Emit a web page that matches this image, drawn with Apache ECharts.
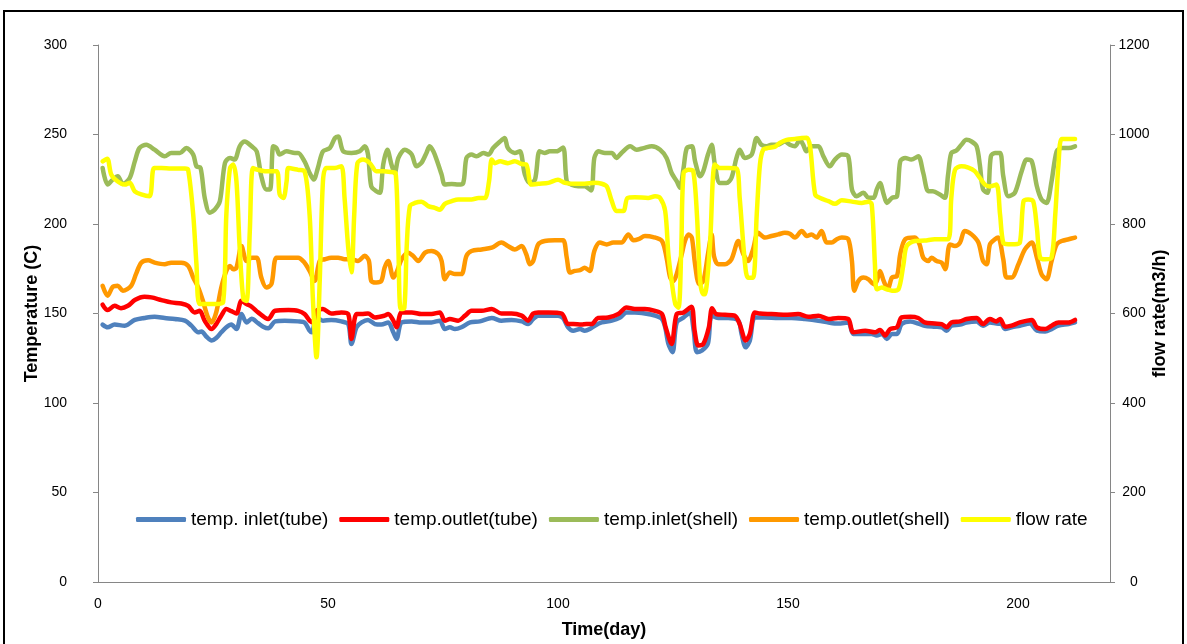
<!DOCTYPE html>
<html>
<head>
<meta charset="utf-8">
<script src="https://cdn.jsdelivr.net/npm/echarts@6/dist/echarts.min.js"></script>
<style>
html,body{margin:0;padding:0;background:#fff;}
#chart{width:1187px;height:644px;}
</style>
</head>
<body>
<div id="chart"></div>
<script>
// Series names
const seriesNames = ['temp. inlet(tube)', 'temp.outlet(tube)', 'temp.inlet(shell)', 'temp.outlet(shell)', 'flow rate'];
const seriesColors = ['#4F81BD', '#FF0000', '#9BBB59', '#FF9900', '#FFFF00'];

// [day, temperature C]
const inletTube = [[1.0,143.8],[2.1,142.3],[3.6,143.8],[5.8,143.2],[6.5,143.8],[8.0,146.4],[10.1,147.5],[12.3,148.2],[14.5,147.5],[16.7,146.9],[18.9,146.0],[20.3,143.2],[21.8,139.5],[22.5,140.0],[23.6,137.0],[24.7,134.9],[25.7,136.3],[26.8,139.5],[27.9,142.3],[29.0,143.8],[30.1,141.3],[31.2,149.7],[32.3,145.0],[33.4,147.0],[34.8,144.6],[35.9,142.6],[37.0,141.7],[38.5,145.6],[40.6,146.0],[43.5,145.6],
[44.9,145.0],[46.0,140.4],[46.5,139.5],[47.5,147.8],[48.9,146.0],[50.7,146.4],[52.9,145.6],[54.4,144.1],[55.1,133.0],[56.2,142.3],[57.3,145.0],[58.7,146.4],[60.2,144.1],[61.6,143.8],[63.1,145.0],[64.2,139.5],[64.9,135.8],[66.0,145.0],[68.2,145.6],[70.3,145.0],[72.5,145.0],[74.3,146.0],[75.4,141.3],[76.5,142.3],[77.6,141.3],[79.0,142.3],[80.9,145.0],[83.0,145.6],[85.6,147.5],
[87.7,146.0],[89.9,146.4],[92.1,145.6],[93.5,144.1],[94.6,146.9],[95.7,148.8],[97.9,148.8],[100.0,148.8],[101.1,147.5],[102.2,142.3],[103.3,140.4],[104.8,141.3],[105.8,140.4],[106.9,141.3],[108.0,143.2],[109.5,145.0],[111.7,146.0],[113.5,147.8],[114.9,150.6],[116.7,150.6],[118.9,150.0],[121.1,148.8],[122.6,146.9],[123.3,142.3],[124.0,133.0],[124.9,128.4],[125.8,145.0],[127.3,147.8],[128.7,150.6],[129.5,140.4],[130.2,128.4],[131.3,129.3],
[132.6,133.3],[133.4,148.8],[134.8,147.5],[137.0,147.5],[139.2,146.0],[139.9,138.6],[140.8,131.1],[141.7,134.9],[142.8,147.8],[145.0,147.8],[147.9,147.5],[150.8,147.5],[153.7,146.9],[156.6,146.0],[158.8,145.0],[160.9,144.4],[163.1,145.0],[164.2,138.6],[166.0,138.6],[168.2,138.6],[169.3,137.7],[170.4,138.6],[171.5,135.8],[172.6,138.6],[173.7,138.6],[174.7,144.1],[176.6,145.6],
[178.3,144.4],[179.7,143.2],[181.9,142.6],[183.4,142.3],[184.5,140.4],[185.5,143.2],[187.4,143.8],[188.8,145.0],[191.0,145.6],[192.4,143.2],[193.9,145.0],[195.3,144.4],[196.4,144.1],[197.2,141.3],[198.6,142.3],[200.4,143.2],[202.6,144.4],[204.1,140.4],[205.9,140.0],[207.3,141.3],[208.8,143.2],[211.0,144.1],[212.4,145.0]];

const outletTube = [[1.0,154.9],[2.1,151.9],[3.6,154.3],[5.0,153.0],[6.5,154.3],[8.0,157.5],[10.1,159.3],[11.6,159.0],[13.8,157.5],[15.9,156.2],[18.1,155.6],[19.6,154.3],[21.0,150.6],[22.1,151.5],[23.2,146.0],[24.7,141.3],[25.7,144.1],[26.8,148.8],[27.9,152.5],[29.0,151.3],[30.1,150.0],[31.2,157.1],[32.3,155.3],[33.4,153.8],[34.8,150.6],[37.0,146.9],[38.5,151.5],[41.4,151.9],[43.5,151.5],
[44.9,149.7],[46.0,146.0],[46.7,145.0],[47.5,151.5],[48.9,152.5],[50.7,150.0],[52.9,150.6],[54.4,149.7],[55.1,135.8],[56.2,149.7],[57.3,149.7],[58.7,150.0],[60.2,147.8],[62.3,148.8],[63.1,149.7],[64.2,146.0],[64.9,142.3],[66.0,150.6],[68.2,150.6],[70.3,149.7],[72.5,149.7],[74.3,150.6],[75.4,146.0],[76.5,146.9],[78.3,146.0],[79.8,148.8],[81.2,151.5],[83.4,151.5],[85.6,152.5],
[87.7,150.0],[89.9,150.0],[92.1,148.8],[93.5,146.0],[94.6,150.0],[95.7,150.6],[97.9,150.6],[100.8,150.0],[102.2,144.1],[103.3,144.1],[105.1,143.8],[106.2,144.1],[107.3,144.1],[108.7,147.5],[110.9,147.8],[113.1,149.7],[114.9,153.4],[116.7,152.5],[118.9,152.5],[121.1,151.5],[122.6,149.7],[123.4,142.3],[124.7,133.0],[125.8,149.7],[127.3,150.6],[129.0,153.8],[129.7,140.4],[130.5,132.1],[131.6,133.0],
[132.8,142.3],[133.5,153.0],[134.4,149.7],[136.3,149.3],[138.4,148.8],[139.5,144.1],[140.8,134.9],[141.7,138.6],[142.8,150.6],[143.9,150.0],[146.4,149.7],[149.3,149.3],[152.2,149.7],[154.4,148.2],[156.6,148.8],[158.8,146.9],[160.9,147.5],[163.1,146.9],[164.2,139.5],[166.8,140.4],[168.9,139.5],[170.0,140.8],[171.1,137.7],[172.2,141.3],[173.7,142.3],[174.7,147.8],[176.6,148.2],
[178.3,147.5],[179.7,145.0],[181.9,144.4],[183.4,144.1],[184.5,142.3],[185.5,145.0],[187.4,145.6],[188.8,146.9],[191.0,147.5],[192.4,144.1],[193.9,146.9],[195.3,145.6],[196.1,146.9],[197.2,142.6],[198.6,143.2],[200.4,145.0],[203.0,146.4],[204.1,142.3],[205.9,141.3],[207.3,143.2],[208.8,145.0],[211.0,145.0],[212.4,146.4]];

const inletShell = [[1.0,231.3],[2.1,222.0],[3.2,224.8],[4.3,226.7],[5.4,222.4],[6.9,225.7],[8.0,235.0],[9.0,242.4],[10.5,244.3],[12.3,241.5],[14.5,237.8],[15.9,239.7],[17.8,239.7],[19.2,242.4],[20.7,238.8],[21.4,232.2],[22.3,231.3],[23.2,214.6],[24.3,206.3],[25.4,208.1],[26.5,212.8],[27.6,234.1],[28.7,236.9],[29.7,236.0],[30.8,243.4],[31.9,246.1],[33.4,243.4],[34.5,240.6],[35.5,226.7],[36.6,219.3],[37.4,219.3],[38.1,243.4],[38.8,242.4],[39.5,238.8],[41.0,240.6],[42.8,239.7],
[43.5,239.7],[44.9,235.0],[46.0,228.5],[46.9,224.8],[47.8,231.3],[48.9,240.6],[50.4,242.4],[51.5,248.0],[52.2,248.9],[53.3,240.6],[55.1,239.7],[56.9,240.6],[58.0,243.4],[58.7,238.8],[59.4,221.1],[60.5,218.3],[61.3,217.4],[62.0,233.2],[62.9,241.5],[63.8,233.2],[64.5,228.5],[65.3,236.9],[66.7,241.5],[68.2,238.8],[69.2,232.2],[70.3,234.1],[71.4,239.7],[72.1,243.4],[72.9,240.6],[73.6,236.0],[74.7,227.6],[75.4,222.0],[76.9,222.4],[78.3,222.0],[79.4,222.9],[80.1,236.9],[81.2,238.8],[82.3,237.8],[83.8,239.7],[84.9,238.8],[85.9,242.4],[87.4,246.1],
[88.4,248.0],[89.1,242.4],[90.6,239.7],[91.7,240.6],[92.8,227.6],[93.9,222.9],[95.0,224.8],[96.0,240.6],[97.1,239.7],[98.2,240.6],[99.7,240.6],[101.1,242.8],[101.9,223.9],[102.9,222.0],[104.4,221.1],[105.8,221.1],[107.2,218.7],[107.9,236.9],[108.8,240.6],[110.2,239.7],[111.7,239.7],[112.7,236.9],[113.8,239.7],[115.7,243.4],[117.1,241.5],[118.6,242.4],[120.4,243.4],[122.2,241.5],[123.6,236.9],[124.7,228.5],[125.8,223.9],[126.5,220.2],[127.3,231.3],[128.0,242.4],[129.1,243.4],[129.8,235.0],[130.9,226.7],[131.6,229.6],
[132.6,238.8],[133.4,244.3],[134.1,233.2],[135.2,222.9],[136.6,222.9],[137.7,225.7],[138.8,236.9],[139.5,241.5],[140.6,236.9],[142.1,238.8],[143.2,248.0],[144.2,244.3],[145.3,243.4],[146.4,244.3],[147.9,244.3],[149.3,246.1],[150.4,244.3],[151.5,243.4],[152.6,247.0],[153.3,244.3],[154.0,240.6],[155.1,243.4],[156.6,243.4],[157.7,237.8],[159.1,232.2],[160.2,236.0],[161.7,238.8],[163.1,237.8],[163.9,219.3],[164.9,215.5],[166.4,217.4],[167.5,214.6],[168.6,214.6],[169.3,219.3],[170.0,222.9],[170.8,216.5],[171.5,211.8],[172.6,214.6],[173.7,215.5],[174.4,235.0],[175.5,236.9],
[176.8,236.0],[178.3,237.8],[179.4,228.5],[180.5,218.3],[181.5,218.3],[183.0,216.5],[184.1,214.6],[184.8,227.6],[185.5,239.7],[186.6,241.0],[187.7,244.3],[188.8,247.0],[189.9,246.1],[191.0,243.4],[191.7,233.2],[192.4,219.3],[193.4,217.4],[194.1,237.8],[195.0,239.7],[196.1,239.7],[196.8,226.7],[197.9,215.5],[199.3,217.4],[200.8,229.5],[201.9,236.0],[203.0,235.0],[204.1,221.1],[205.1,213.7],[206.2,211.8],[207.3,223.9],[208.4,240.6],[209.5,242.4],[211.0,242.4],[212.4,243.4]];

const outletShell = [[1.0,165.5],[2.1,159.9],[3.2,164.9],[4.3,165.5],[5.4,162.7],[7.2,165.5],[8.3,172.3],[9.4,178.4],[10.9,179.7],[12.3,178.4],[14.5,177.5],[15.9,178.4],[18.1,178.4],[19.6,176.6],[20.7,170.1],[21.8,164.5],[22.8,157.1],[23.9,147.8],[24.7,145.0],[25.7,150.6],[26.8,164.5],[27.9,173.8],[28.7,176.6],[29.4,174.7],[30.1,175.6],[31.2,187.7],[32.3,179.3],[33.4,181.2],[34.5,181.2],[35.5,170.1],[36.6,164.5],[37.7,166.4],[38.8,181.2],[40.6,181.2],[43.5,181.2],
[44.9,178.4],[46.0,173.8],[47.1,168.2],[48.2,179.3],[49.3,180.3],[50.7,181.2],[52.2,181.2],[53.6,180.3],[55.1,180.3],[56.5,179.3],[58.0,182.2],[58.9,179.3],[59.4,168.2],[60.5,167.3],[61.6,168.2],[62.3,175.6],[63.1,179.3],[64.2,170.1],[64.9,172.9],[66.0,180.3],[67.4,184.0],[68.5,182.2],[69.6,179.3],[71.1,184.0],[72.5,184.9],[74.0,183.1],[74.7,179.3],[75.4,169.1],[76.5,172.9],[77.6,172.0],[79.0,172.0],[80.1,182.2],[81.2,184.9],[83.4,185.8],[85.6,186.8],
[87.7,189.6],[89.1,187.7],[90.6,185.8],[92.1,187.7],[93.1,183.1],[93.9,177.5],[94.6,179.3],[95.7,188.6],[97.1,190.5],[99.3,190.9],[101.1,190.9],[101.9,181.2],[102.6,172.9],[103.7,173.8],[104.8,174.2],[105.8,175.6],[106.9,173.8],[107.9,184.9],[109.1,189.6],[110.6,188.6],[112.0,189.6],[113.8,189.6],[115.3,194.2],[116.4,190.9],[117.5,191.5],[118.9,193.3],[120.7,192.7],[122.6,190.5],[123.6,181.2],[124.4,170.1],[125.1,168.2],[125.8,172.0],[126.9,183.1],[127.6,190.5],[128.4,194.2],[129.1,192.4],[129.8,177.5],[130.7,166.4],[131.6,168.2],
[132.6,183.1],[133.4,194.2],[133.9,182.2],[134.8,177.5],[136.3,177.5],[137.7,180.3],[139.2,190.5],[140.3,183.1],[141.3,179.3],[142.4,185.8],[143.5,195.1],[145.0,192.4],[146.4,193.3],[147.9,194.2],[149.3,195.1],[150.4,194.6],[151.5,192.4],[153.0,196.1],[154.1,193.3],[155.1,194.2],[156.2,192.4],[157.3,196.1],[158.4,189.6],[159.5,189.6],[160.6,191.5],[161.7,192.4],[163.1,191.5],[163.9,179.3],[164.4,162.7],[165.3,168.2],[166.4,170.1],[167.5,169.1],[168.6,166.4],[169.3,168.2],[170.0,173.8],[170.8,168.2],[171.7,163.6],[172.6,170.1],[173.7,171.0],[174.4,183.1],[175.5,191.5],
[177.6,192.4],[178.6,188.6],[179.4,181.2],[180.5,179.3],[181.2,181.2],[182.3,179.3],[183.4,178.4],[184.2,174.7],[185.2,188.6],[186.3,187.7],[187.4,189.6],[188.4,196.1],[189.9,194.2],[191.4,189.6],[192.4,179.3],[193.2,177.5],[193.9,188.6],[195.0,191.5],[195.7,192.4],[196.8,180.3],[197.5,170.1],[198.6,170.1],[200.1,177.5],[201.5,185.8],[203.0,189.6],[204.1,181.2],[205.1,172.0],[206.2,169.1],[207.3,179.3],[208.4,188.6],[209.5,190.5],[211.0,191.5],[212.4,192.4]];

// [day, flow rate m3/h]
const flowRate = [[1.0,940],[2.0,946],[2.9,910],[4.3,895],[5.8,888],[6.9,892],[8.0,873],[9.4,866],[11.2,862],[12.2,925],[13.8,925],[15.9,924],[18.9,924],[19.6,921],[20.7,821],[21.4,710],[22.1,621],[23.9,621],[25.7,621],[27.2,625],[27.9,821],[28.7,925],[29.4,933],[30.1,895],[30.8,747],[31.6,632],[32.3,628],[33.0,784],[33.7,925],[34.8,921],[36.3,918],[38.8,918],[39.5,866],[40.3,858],[41.0,895],[41.4,925],[43.5,921],
[44.9,918],[46.0,821],[46.7,636],[47.5,502],[48.2,673],[48.9,895],[49.6,925],[51.5,925],[52.9,929],[53.6,858],[54.4,747],[55.1,692],[55.7,821],[56.4,936],[57.6,944],[59.1,936],[60.5,918],[62.0,918],[63.8,916],[64.7,914],[65.3,747],[65.8,610],[66.6,613],[67.1,747],[67.8,840],[68.9,847],[70.3,850],[71.8,840],[73.2,836],[74.3,832],[75.4,845],[76.9,851],[78.3,855],[81.2,855],[82.7,858],[84.1,858],[85.0,895],[85.6,944],[86.3,936],[87.4,940],
[89.1,936],[90.6,940],[92.1,934],[93.1,933],[94.2,888],[95.7,890],[97.9,892],[100.0,899],[101.5,892],[103.7,890],[105.8,890],[108.0,892],[109.5,890],[110.6,884],[111.7,851],[112.7,829],[114.2,829],[115.1,858],[116.7,860],[119.6,858],[121.1,862],[122.2,858],[123.3,829],[124.0,732],[124.7,673],[125.5,621],[126.2,613],[126.8,747],[127.3,914],[128.4,921],[129.4,918],[130.2,821],[130.9,673],[131.6,643],
[131.9,643],[133.0,747],[134.1,933],[135.2,925],[137.0,925],[138.8,924],[139.5,858],[140.6,717],[141.3,680],[142.4,680],[143.2,821],[143.9,933],[144.6,966],[145.7,970],[147.2,973],[148.2,981],[149.7,988],[151.5,990],[153.0,992],[154.1,993],[154.8,973],[155.9,866],[157.0,858],[158.8,851],[160.2,845],[161.7,853],[163.9,850],[166.0,847],[167.5,850],[168.2,844],[168.9,710],[169.3,654],[170.4,658],[171.5,654],[172.6,651],[174.0,654],[175.1,710],[175.8,751],
[177.6,762],[179.7,763],[181.9,766],[184.8,766],[185.5,858],[186.3,921],[187.7,929],[189.2,926],[190.6,918],[191.7,903],[192.8,888],[193.9,884],[195.3,888],[196.1,821],[196.8,758],[197.9,755],[199.3,755],[200.4,758],[201.2,851],[202.2,855],[203.3,851],[204.1,792],[204.8,725],[205.9,721],[207.3,725],[208.1,821],[208.8,933],[209.5,990],[211.0,990],[212.4,990]];

const xTickLabels = [0, 50, 100, 150, 200];

const chart = echarts.init(document.getElementById('chart'), null, {renderer: 'canvas'});
const FONT = 'Liberation Sans';
const axisGrey = '#868686';

function mk(name, data, color, yIdx) {
  return {
    name: name, type: 'line', data: data, yAxisIndex: yIdx,
    showSymbol: false, symbol: 'none', smooth: 0.3,
    lineStyle: {color: color, width: 4.5, cap: 'round', join: 'round'},
    itemStyle: {color: color},
    animation: false
  };
}

chart.setOption({
  animation: false,
  backgroundColor: '#fff',
  textStyle: {fontFamily: FONT},
  graphic: [{
    type: 'rect', shape: {x: 4, y: 11, width: 1179, height: 700},
    style: {fill: 'none', stroke: '#000', lineWidth: 2}, silent: true, z: 100
  }],
  grid: {left: 98, right: 77, top: 45, bottom: 60, containLabel: false},
  legend: {
    left: 131, top: 505,
    itemWidth: 50, itemHeight: 5, itemGap: 11,
    icon: 'roundRect',
    textStyle: {fontFamily: FONT, fontSize: 19, color: '#000'},
    data: seriesNames
  },
  xAxis: {
    type: 'value', min: 0, max: 220, interval: 50,
    name: 'Time(day)', nameLocation: 'middle', nameGap: 39,
    nameTextStyle: {fontFamily: FONT, fontSize: 18, fontWeight: 'bold', color: '#000'},
    axisLine: {show: true, lineStyle: {color: axisGrey, width: 1}},
    axisTick: {show: false},
    splitLine: {show: false},
    axisLabel: {
      color: '#000', fontSize: 14, fontFamily: FONT, margin: 15, showMaxLabel: false,
      formatter: function (v) { return xTickLabels.indexOf(v) >= 0 ? String(v) : ''; }
    }
  },
  yAxis: [{
    type: 'value', min: 0, max: 300, interval: 50, position: 'left',
    name: 'Temperature (C)', nameLocation: 'middle', nameGap: 57, nameRotate: 90,
    nameMoveOverlap: false,
    nameTextStyle: {fontFamily: FONT, fontSize: 18, fontWeight: 'bold', color: '#000'},
    axisLine: {show: true, lineStyle: {color: axisGrey, width: 1}},
    axisTick: {show: true, length: 5, lineStyle: {color: axisGrey}},
    splitLine: {show: false},
    axisLabel: {color: '#000', fontSize: 14, fontFamily: FONT, margin: 31}
  }, {
    type: 'value', min: 0, max: 1200, interval: 200, position: 'right',
    name: 'flow rate(m3/h)', nameLocation: 'middle', nameGap: 41, nameRotate: 90,
    nameMoveOverlap: false,
    nameTextStyle: {fontFamily: FONT, fontSize: 18, fontWeight: 'bold', color: '#000'},
    axisLine: {show: true, lineStyle: {color: axisGrey, width: 1}},
    axisTick: {show: true, length: 5, lineStyle: {color: axisGrey}},
    splitLine: {show: false},
    axisLabel: {color: '#000', fontSize: 14, fontFamily: FONT, margin: 24, align: 'center',
      formatter: function (v) { return String(v); }}
  }],
  series: [
    mk(seriesNames[0], inletTube, seriesColors[0], 0),
    mk(seriesNames[1], outletTube, seriesColors[1], 0),
    mk(seriesNames[2], inletShell, seriesColors[2], 0),
    mk(seriesNames[3], outletShell, seriesColors[3], 0),
    mk(seriesNames[4], flowRate, seriesColors[4], 1)
  ]
});
</script>
</body>
</html>
